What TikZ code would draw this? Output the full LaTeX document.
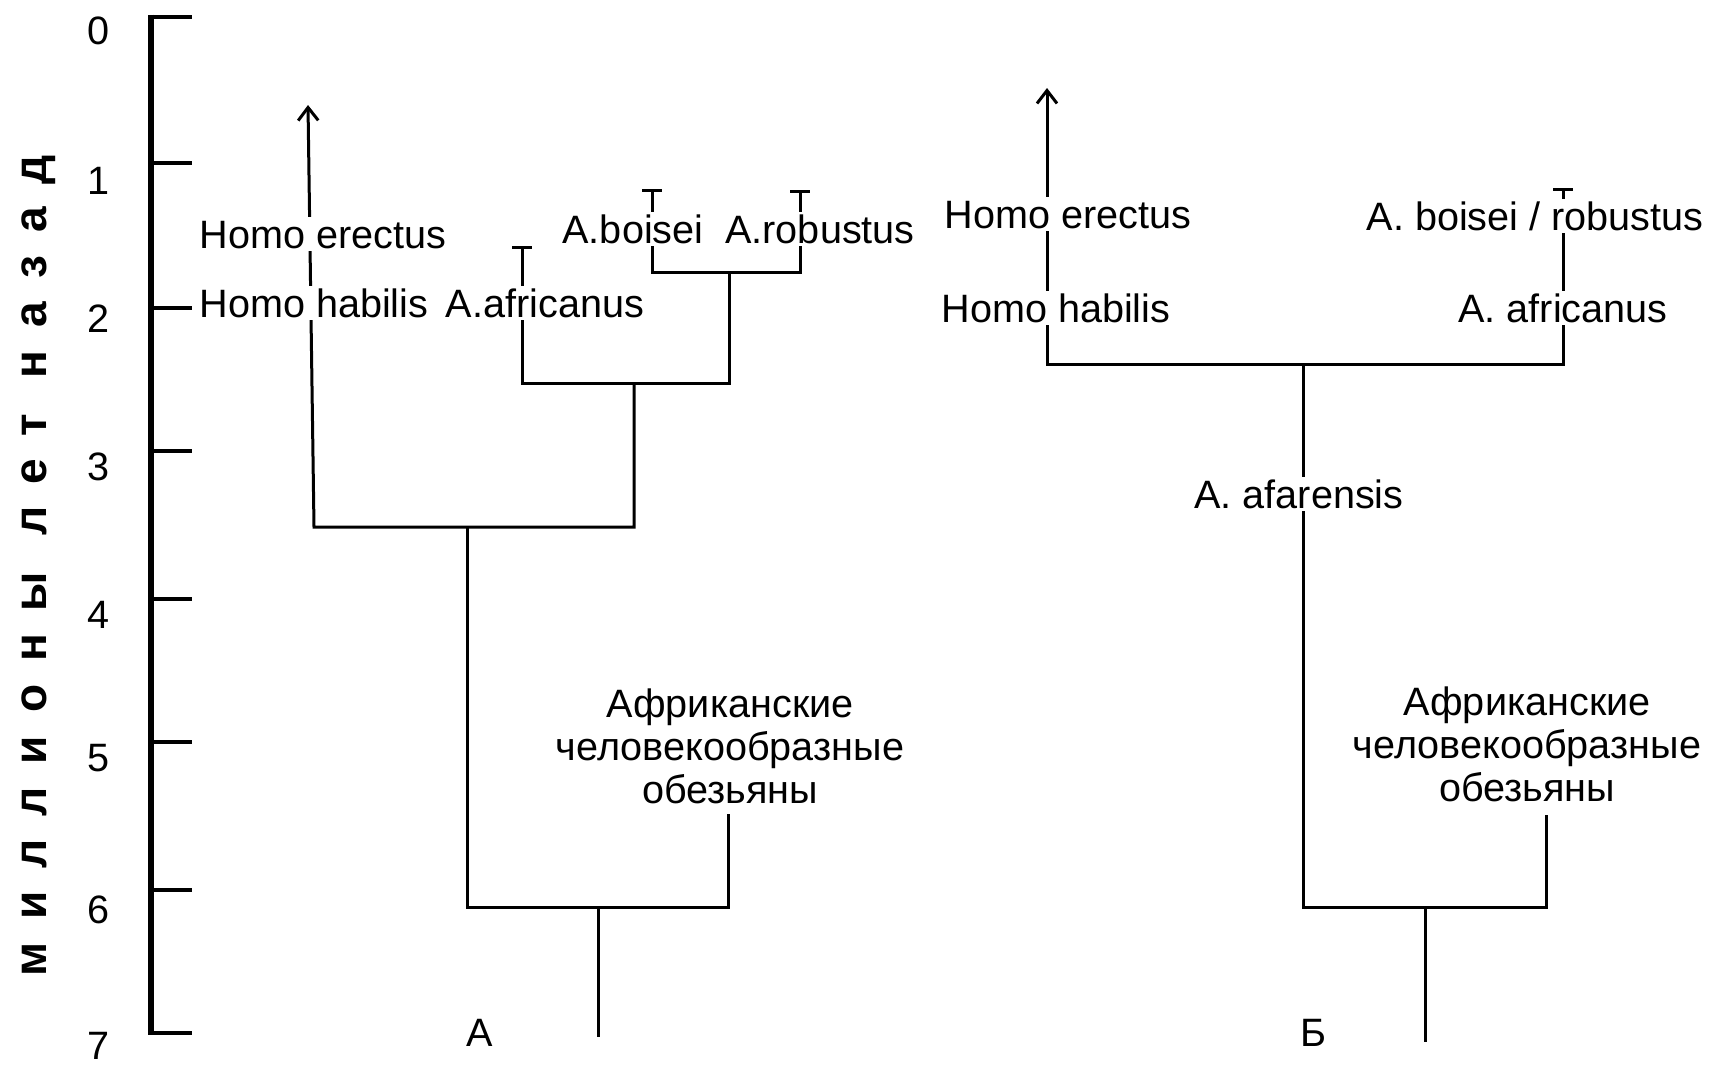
\documentclass[tikz,border=0pt]{standalone}
\usepackage{fontspec}
\setmainfont{Liberation Sans}
\newfontfamily\axisfont[LetterSpace=50]{Liberation Sans}
\usetikzlibrary{arrows.meta}
\begin{document}
\begin{tikzpicture}[x=0.5pt,y=-0.5pt,
  br/.style={line width=1.5pt},
  axline/.style={line width=3pt},
  tickline/.style={line width=2pt},
  lbl/.style={font=\fontsize{19.8}{22.5}\selectfont, inner sep=1.5pt, text height=14.2pt, text depth=0pt, fill=white},
  num/.style={font=\fontsize{19.8}{22.5}\selectfont, inner sep=0pt},
  apetext/.style={font=\fontsize{19.8}{21.5}\selectfont, inner sep=0pt, align=center},
  tbar/.style={-{Bar[width=10pt]}},
  bothbar/.style={{Bar[width=10pt]}-{Bar[width=10pt]}},
  uparrow/.style={-{Straight Barb[length=6.5pt,width=10pt]}},
  barup/.style={{Bar[width=10pt]}-{Straight Barb[length=6.5pt,width=10pt]}}
]
\useasboundingbox (0,0) rectangle (1723,1067);

% ---------------- time axis ----------------
\coordinate (axtop) at (151,14.5);
\coordinate (axbot) at (151,1035);
\draw[axline] (axtop) -- (axbot);
\foreach \i/\y/\ly in {0/16.5/31, 1/162.6/181, 2/307.7/319, 3/450.6/467, 4/599/615, 5/742/758, 6/890/910, 7/1033/1046}{
  \coordinate (tk\i a) at (148,\y);
  \coordinate (tk\i b) at (192,\y);
  \draw[tickline] (tk\i a) -- (tk\i b);
  \node[num] (tl\i) at (99,\ly) {\i};
}
\node[rotate=90, inner sep=0pt, font=\axisfont\bfseries\fontsize{23}{23}\selectfont] (axlabel) at (39,566) {миллионы лет назад};

% ---------------- tree A ----------------
\coordinate (hAtip) at (308,105);
\coordinate (a35L) at (314,527);
\coordinate (a35R) at (634,527);
\coordinate (a35M) at (467,527);
\coordinate (a25M) at (634,383);
\coordinate (a25L) at (522,383);
\coordinate (a25R) at (729,383);
\coordinate (afrT) at (522,246);
\coordinate (a17M) at (729,272);
\coordinate (a17L) at (652,272);
\coordinate (a17R) at (800,272);
\coordinate (boiT) at (652,189);
\coordinate (robT) at (800,190);
\coordinate (a6L) at (467,907);
\coordinate (a6R) at (728,907);
\coordinate (a6M) at (598,907);
\coordinate (apeA) at (728,814);
\coordinate (rootA) at (598,1037);

\draw[br,uparrow] (a25M) -- (a35R) -- (a35L) -- (hAtip);
\draw[br,tbar] (a17M) -- (a25R) -- (a25L) -- (afrT);
\draw[br,bothbar] (boiT) -- (a17L) -- (a17R) -- (robT);
\draw[br] (a35M) -- (a6L) -- (a6R) -- (apeA);
\draw[br] (a6M) -- (rootA);

\node[lbl] (erA) at (323,234) {Homo erectus};
\node[lbl] (haA) at (314,303) {Homo habilis};
\node[lbl] (afA) at (545,303) {A.africanus};
\node[lbl] (boA) at (633,229) {A.boisei};
\node[lbl] (roA) at (820,229) {A.robustus};
\node[apetext] (apA) at (730,746) {Африканские\\человекообразные\\обезьяны};
\node[num] (labA) at (480,1033) {А};

% ---------------- tree B ----------------
\coordinate (hBtip) at (1047,88);
\coordinate (b2L) at (1047,364);
\coordinate (b2R) at (1563,364);
\coordinate (b2M) at (1303,364);
\coordinate (bT) at (1563,188);
\coordinate (b6L) at (1303,907);
\coordinate (b6R) at (1546,907);
\coordinate (b6M) at (1425,907);
\coordinate (apeB) at (1546,815);
\coordinate (rootB) at (1425,1042);

\draw[br,barup] (bT) -- (b2R) -- (b2L) -- (hBtip);
\draw[br] (b2M) -- (b6L) -- (b6R) -- (apeB);
\draw[br] (b6M) -- (rootB);

\node[lbl] (erB) at (1068,214) {Homo erectus};
\node[lbl] (haB) at (1056,308) {Homo habilis};
\node[lbl] (brB) at (1535,216) {A. boisei / robustus};
\node[lbl] (afB) at (1563,308) {A. africanus};
\node[lbl] (aaB) at (1299,494) {A. afarensis};
\node[apetext] (apB) at (1527,744) {Африканские\\человекообразные\\обезьяны};
\node[num] (labB) at (1313,1033) {Б};
\end{tikzpicture}
\end{document}
